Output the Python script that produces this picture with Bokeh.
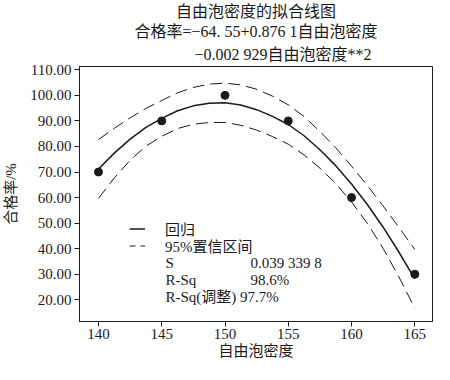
from bokeh.plotting import figure
from bokeh.models import Range1d, FixedTicker, PrintfTickFormatter, Title, Legend, LegendItem, Label
from bokeh.embed import file_html
from bokeh.resources import INLINE

# ---- data ----
density = [140, 145, 150, 155, 160, 165]
pass_rate = [70, 90, 100, 90, 60, 30]

fit_x = [140, 141.25, 142.5, 143.75, 145, 146.25, 147.5, 148.75, 150, 151.25, 152.5,
         153.75, 155, 156.25, 157.5, 158.75, 160, 161.25, 162.5, 163.75, 165]
fit_y = [71.2, 77.4, 82.9, 87.5, 91.0, 94.0, 95.9, 96.9, 97.1, 96.2, 94.4,
         91.8, 88.6, 84.2, 78.7, 72.5, 65.3, 57.3, 48.4, 38.6, 28.2]
ci_upper = [82.7, 87.1, 91.2, 94.9, 98.0, 101.0, 103.1, 104.4, 104.8, 104.1, 102.4,
            99.7, 96.3, 91.7, 85.9, 79.5, 72.3, 64.7, 56.7, 48.3, 39.7]
ci_lower = [59.7, 67.7, 74.6, 80.1, 84.0, 87.0, 88.7, 89.4, 89.4, 88.3, 86.4,
            83.9, 80.9, 76.7, 71.5, 65.5, 58.3, 49.9, 40.1, 28.9, 16.7]

x_ticks = [140, 145, 150, 155, 160, 165]
y_ticks = [20, 30, 40, 50, 60, 70, 80, 90, 100, 110]

title_lines = ["自由泡密度的拟合线图",
               "合格率=−64. 55+0.876 1自由泡密度",
               "−0.002 929自由泡密度**2"]
x_label = "自由泡密度"
y_label = "合格率/%"
legend_labels = ["回归", "95%置信区间"]
stat_names = ["S", "R-Sq"]
stat_values = ["0.039 339 8", "98.6%"]
stat_adj = "R-Sq(调整) 97.7%"

FONT = "Liberation Serif, Noto Sans CJK SC"
INK = "#1a1a1a"

p = figure(width=434, height=364, output_backend="svg", toolbar_location=None,
           title=None, x_range=Range1d(138.5, 166.4), y_range=Range1d(11.5, 111.3),
           min_border_left=69, min_border_right=2, min_border_top=66, min_border_bottom=43)

p.background_fill_color = "white"
p.border_fill_color = "white"
p.outline_line_color = INK
p.outline_line_width = 1
p.xgrid.visible = False
p.ygrid.visible = False

for ax in (p.xaxis[0], p.yaxis[0]):
    ax.major_label_text_font = FONT
    ax.major_label_text_font_size = "15px"
    ax.major_label_text_color = INK
    ax.axis_label_text_font = FONT
    ax.axis_label_text_font_size = "15px"
    ax.axis_label_text_font_style = "normal"
    ax.axis_label_text_color = INK
    ax.axis_line_color = INK
    ax.major_tick_line_color = INK
    ax.major_tick_in = 0
    ax.major_tick_out = 5
    ax.minor_tick_line_color = None

p.xaxis.ticker = FixedTicker(ticks=x_ticks)
p.yaxis.ticker = FixedTicker(ticks=y_ticks)
p.yaxis.formatter = PrintfTickFormatter(format="%.2f")
p.xaxis.axis_label = x_label
p.yaxis.axis_label = y_label
p.xaxis.axis_label_standoff = 1
p.yaxis.axis_label_standoff = 8
p.xaxis.major_label_standoff = 2
p.yaxis.major_label_standoff = 3

# titles (last added sits on top)
title_style = [("center", 0, 1), ("center", 0, 0), ("left", 115, 8)]
for text, (al, off, so) in reversed(list(zip(title_lines, title_style))):
    t = Title(text=text, align=al, offset=off, text_font=FONT,
              text_font_size="16px", text_font_style="normal", text_color=INK,
              standoff=so)
    p.add_layout(t, "above")

r_fit = p.line(fit_x, fit_y, line_color=INK, line_width=1.5)
p.line(fit_x, ci_upper, line_color=INK, line_width=1, line_dash="12 6")
p.line(fit_x, ci_lower, line_color=INK, line_width=1, line_dash="12 6")
p.scatter(density, pass_rate, size=8, fill_color=INK, line_color=INK)
# hidden copy of the band, only used for the key (shorter dashes as in the reference key)
r_key = p.line(fit_x, ci_upper, line_color=INK, line_width=1, line_dash="6 5", visible=False)

legend_style = dict(orientation="vertical", label_text_font=FONT, label_text_font_size="15px",
                    label_text_color=INK, glyph_width=16, glyph_height=17, label_height=17,
                    label_standoff=20, spacing=0, padding=0, margin=0,
                    border_line_color=None, background_fill_alpha=0)
leg1 = Legend(items=[LegendItem(label=legend_labels[0], renderers=[r_fit])],
              location=(50, 82), **legend_style)
leg2 = Legend(items=[LegendItem(label=legend_labels[1], renderers=[r_key])],
              location=(50, 65), **legend_style)
p.add_layout(leg1, "center")
p.add_layout(leg2, "center")

row_y = [59, 42]
for name, val, y in zip(stat_names, stat_values, row_y):
    p.add_layout(Label(x=86, y=y, x_units="screen", y_units="screen", text=name,
                       text_font=FONT, text_font_size="15px", text_color=INK,
                       text_baseline="middle"))
    p.add_layout(Label(x=171, y=y, x_units="screen", y_units="screen", text=val,
                       text_font=FONT, text_font_size="15px", text_color=INK,
                       text_baseline="middle"))
p.add_layout(Label(x=86, y=25, x_units="screen", y_units="screen", text=stat_adj,
                   text_font=FONT, text_font_size="15px", text_color=INK,
                   text_baseline="middle"))

open("out.html", "w").write(file_html(p, INLINE))
